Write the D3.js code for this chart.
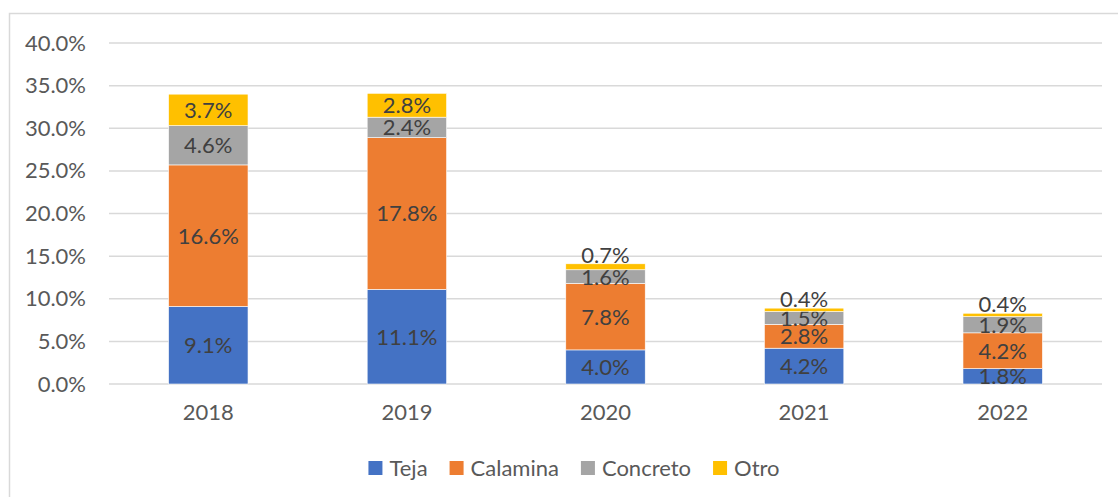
<!DOCTYPE html>
<html>
<head>
<meta charset="utf-8">
<script src="https://cdn.jsdelivr.net/npm/d3@7"></script>
<style>
body { margin: 0; background: #fff; }
svg { display: block; font-family: Lato, "Open Sans", sans-serif; }
</style>
</head>
<body>
<script>
"use strict";
const years = ["2018", "2019", "2020", "2021", "2022"];
const series = ["Teja", "Calamina", "Concreto", "Otro"];
const teja = [9.1, 11.1, 4.0, 4.2, 1.8];
const calamina = [16.6, 17.8, 7.8, 2.8, 4.2];
const concreto = [4.6, 2.4, 1.6, 1.5, 1.9];
const otro = [3.7, 2.8, 0.7, 0.4, 0.4];
const yTicks = [0, 5, 10, 15, 20, 25, 30, 35, 40];

const colors = {"Teja": "#4472C4", "Calamina": "#ED7D31", "Concreto": "#A5A5A5", "Otro": "#FFC000"};
const size = {"width": 1118, "height": 497};
const margin = {"top": 43, "right": 16, "bottom": 113, "left": 109};
const fs = "22px";

const rows = years.map((y, i) => ({"year": y, "Teja": teja[i], "Calamina": calamina[i], "Concreto": concreto[i], "Otro": otro[i]}));
const stack = d3.stack().keys(series)(rows);

const svg = d3.select("body").append("svg").attr("width", size.width).attr("height", size.height);

// chart frame (right and bottom edges fall outside the picture)
svg.append("rect").attr("x", 9.5).attr("y", 13.5).attr("width", 1300).attr("height", 700)
	.attr("fill", "none").attr("stroke", "#d9d9d9").attr("stroke-width", 1.5);

const x = d3.scaleBand().domain(years).range([margin.left, size.width - margin.right]).paddingInner(0.6).paddingOuter(0.3);
const y = d3.scaleLinear().domain([0, 40]).range([size.height - margin.bottom, margin.top]);

svg.append("g").selectAll("line").data(yTicks).enter().append("line")
	.attr("x1", margin.left).attr("x2", size.width - margin.right)
	.attr("y1", d => y(d)).attr("y2", d => y(d))
	.attr("stroke", "#d9d9d9").attr("stroke-width", 1.5);

const yAxis = d3.axisLeft(y).tickValues(yTicks).tickFormat(d => d.toFixed(1) + "%").tickSize(0).tickPadding(23);
const ya = svg.append("g").attr("transform", "translate(" + margin.left + ",0)").call(yAxis);
ya.select(".domain").remove();
ya.selectAll("text").attr("fill", "#595959").style("font-size", fs).style("font-family", "Lato, sans-serif");

const layers = svg.append("g").selectAll("g").data(stack).enter().append("g").attr("fill", d => colors[d.key]);
layers.selectAll("rect").data(d => d).enter().append("rect")
	.attr("x", d => x(d.data.year))
	.attr("width", x.bandwidth())
	.attr("y", d => y(d[1]))
	.attr("height", d => y(d[0]) - y(d[1]))
	.attr("stroke", "#fff").attr("stroke-width", 0.6);

const xAxis = d3.axisBottom(x).tickSize(0).tickPadding(20);
const xa = svg.append("g").attr("transform", "translate(0," + y(0) + ")").call(xAxis);
xa.select(".domain").remove();
xa.selectAll("text").attr("fill", "#595959").style("font-size", fs).style("font-family", "Lato, sans-serif");

// data labels; the small "Otro" values sit just above the stack
layers.each(function(layer) {
	d3.select(this).selectAll("text").data(layer).enter().append("text")
		.attr("x", d => x(d.data.year) + x.bandwidth() / 2)
		.attr("y", d => {
			const v = d[1] - d[0];
			const c = y((d[0] + d[1]) / 2);
			return (layer.key === "Otro" && v < 1) ? y(d[1]) - 9 : c;
		})
		.attr("dy", "0.36em")
		.attr("text-anchor", "middle")
		.attr("fill", "#404040")
		.style("font-size", fs)
		.text(d => (d[1] - d[0]).toFixed(1) + "%");
});

// legend
const legend = svg.append("g");
let lx = 0;
series.forEach(s => {
	const g = legend.append("g").attr("transform", "translate(" + lx + ",0)");
	g.append("rect").attr("x", 0).attr("y", -7).attr("width", 14).attr("height", 14).attr("fill", colors[s]);
	const t = g.append("text").attr("x", 21).attr("y", 0).attr("dy", "0.36em").attr("fill", "#595959").style("font-size", fs).text(s);
	lx += 21 + t.node().getComputedTextLength() + 22;
});
const lw = lx - 22;
legend.attr("transform", "translate(" + (574 - lw / 2) + ",468)");
</script>
</body>
</html>
